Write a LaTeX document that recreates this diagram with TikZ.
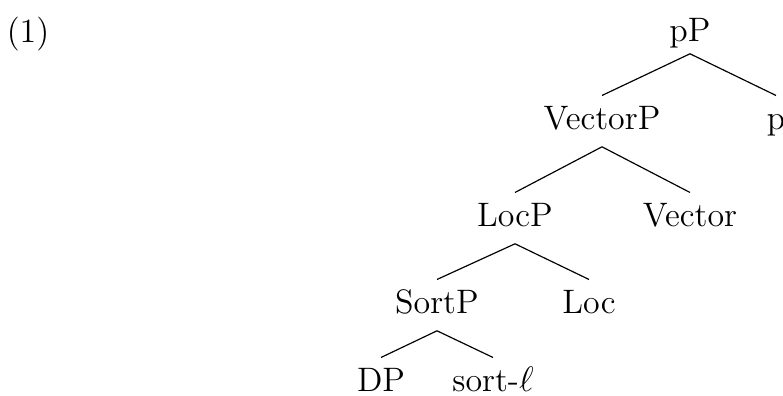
\documentclass[tikz,border=0pt]{standalone}
\usepackage{amsmath}
\usepackage{amssymb}
\usepackage{tikz}
\tikzset{lbl/.style={anchor=base, inner sep=3.5pt, text height=8pt, text depth=2pt,
  font=\fontsize{11.5}{14}\selectfont}}

\begin{document}
\begin{tikzpicture} [x=0.339pt, y=-0.339pt]
\useasboundingbox (0,0) rectangle (783,396);
\node[lbl] (ex) at (28,43) {(1)};
\node[lbl, text depth=0.3pt] (pP) at (690,42) {pP};
\node[lbl] (VectorP) at (602,130) {VectorP};
\node[lbl] (p) at (776,130) {p};
\node[lbl] (LocP) at (515,227) {LocP};
\node[lbl] (Vector) at (690,227) {Vector};
\node[lbl] (SortP) at (437,314) {SortP};
\node[lbl] (Loc) at (589,314) {Loc};
\node[lbl] (DP) at (381,392) {DP};
\node[lbl] (sort) at (493,392) {sort-$\ell$};
\draw (VectorP.north) -- (pP.south) -- (p.north);
\draw (LocP.north) -- (VectorP.south) -- (Vector.north);
\draw (SortP.north) -- (LocP.south) -- (Loc.north);
\draw (DP.north) -- (SortP.south) -- (sort.north);
\end{tikzpicture}
\end{document}
